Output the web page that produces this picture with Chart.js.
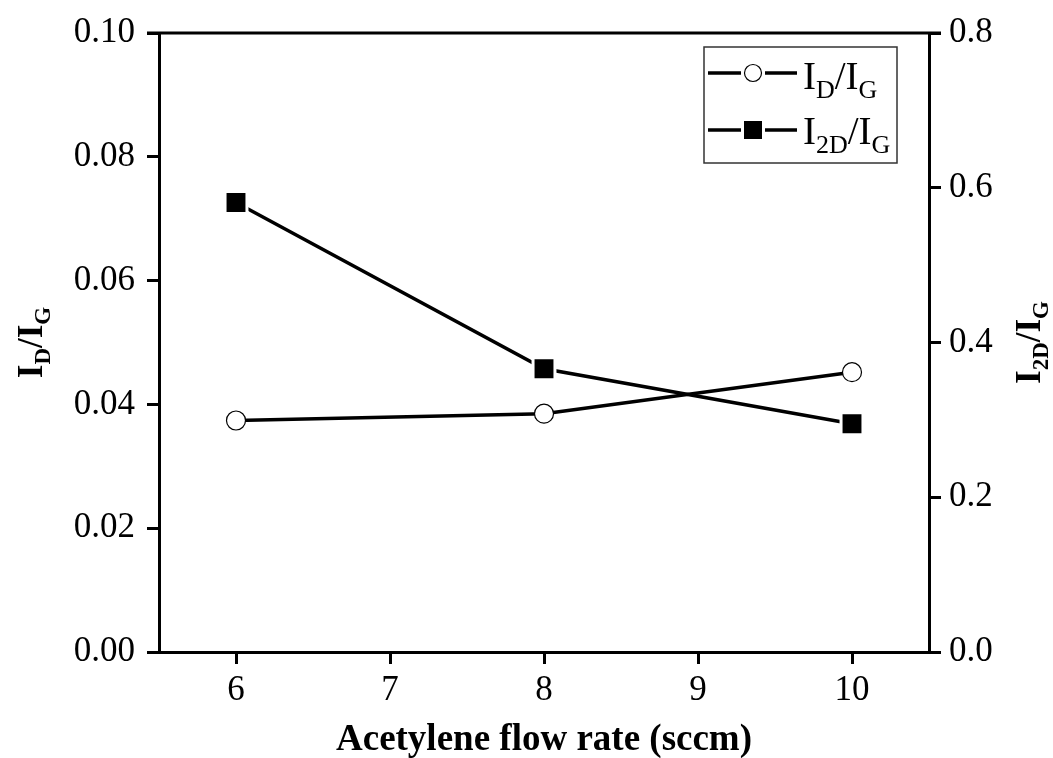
<!DOCTYPE html>
<html>
<head>
<meta charset="utf-8">
<script src="https://cdn.jsdelivr.net/npm/chart.js@4"></script>
<style>
  html, body { margin: 0; padding: 0; background: #fff; }
  #wrap { width: 1053px; height: 758px; }
</style>
</head>
<body>
<div id="wrap"><canvas id="chart" width="1053" height="758"></canvas></div>
<script>
// datos
const flowRate = [6, 8, 10];
const idRatio = [0.0374, 0.0385, 0.0452];
const i2dRatio = [0.581, 0.366, 0.295];
const xTicks = [6, 7, 8, 9, 10];
const leftTicks = [0, 0.02, 0.04, 0.06, 0.08, 0.10];
const rightTicks = [0, 0.2, 0.4, 0.6, 0.8];

const SERIF = '"Liberation Serif", "DejaVu Serif", serif';

// texto con subindices: partes [{t, sub}]
const drawRich = (ctx, parts, x, y, size, bold, align) => {
    const w = bold ? 'bold ' : '';
    const subSize = Math.round(size * 0.66);
    let total = 0;
    parts.forEach(p => {
        ctx.font = w + (p.sub ? subSize : size) + 'px ' + SERIF;
        total += ctx.measureText(p.t).width;
    });
    let cx = align === 'center' ? x - total / 2 : x;
    ctx.textAlign = 'left';
    ctx.textBaseline = 'alphabetic';
    parts.forEach(p => {
        ctx.font = w + (p.sub ? subSize : size) + 'px ' + SERIF;
        ctx.fillText(p.t, cx, p.sub ? y + size * 0.22 : y);
        cx += ctx.measureText(p.t).width;
    });
};

const idLabel = [{t: 'I'}, {t: 'D', sub: true}, {t: '/'}, {t: 'I'}, {t: 'G', sub: true}];
const i2dLabel = [{t: 'I'}, {t: '2D', sub: true}, {t: '/'}, {t: 'I'}, {t: 'G', sub: true}];

const extras = {
    id: 'extras',
    afterDraw(chart) {
        const ctx = chart.ctx;
        const a = chart.chartArea;
        ctx.save();
        // linea superior del marco
        ctx.strokeStyle = '#000';
        ctx.lineWidth = 3;
        ctx.beginPath();
        ctx.moveTo(a.left - 12, a.top);
        ctx.lineTo(a.right + 12, a.top);
        ctx.stroke();

        ctx.fillStyle = '#000';
        // titulo eje x
        ctx.font = 'bold 37px ' + SERIF;
        ctx.textAlign = 'center';
        ctx.textBaseline = 'alphabetic';
        ctx.fillText('Acetylene flow rate (sccm)', (a.left + a.right) / 2, 750);

        // titulos ejes y (rotados)
        const midY = (a.top + a.bottom) / 2;
        ctx.save();
        ctx.translate(42, midY);
        ctx.rotate(-Math.PI / 2);
        drawRich(ctx, idLabel, 0, 0, 35, true, 'center');
        ctx.restore();
        ctx.save();
        ctx.translate(1040, midY);
        ctx.rotate(-Math.PI / 2);
        drawRich(ctx, i2dLabel, 0, 0, 35, true, 'center');
        ctx.restore();

        // leyenda
        ctx.strokeStyle = '#333';
        ctx.lineWidth = 1.5;
        ctx.strokeRect(704, 47, 193, 116);
        ctx.strokeStyle = '#000';
        ctx.lineWidth = 3.5;
        [73, 130].forEach(ly => {
            ctx.beginPath();
            ctx.moveTo(708, ly);
            ctx.lineTo(741, ly);
            ctx.moveTo(765, ly);
            ctx.lineTo(797, ly);
            ctx.stroke();
        });
        ctx.lineWidth = 1.2;
        ctx.fillStyle = '#fff';
        ctx.beginPath();
        ctx.arc(753, 73, 8.5, 0, Math.PI * 2);
        ctx.fill();
        ctx.stroke();
        ctx.fillStyle = '#000';
        ctx.fillRect(744, 121, 18, 18);
        drawRich(ctx, idLabel, 803, 89, 39, false, 'left');
        drawRich(ctx, i2dLabel, 803, 144, 39, false, 'left');
        ctx.restore();
    }
};

const tickFont = { family: SERIF, size: 35 };
const axisGrid = { drawOnChartArea: false, color: '#000', lineWidth: 3, tickLength: 12 };
const axisBorder = { display: true, color: '#000', width: 3 };

new Chart(document.getElementById('chart'), {
    type: 'scatter',
    data: {
        datasets: [
            {
                label: 'ID/IG',
                data: flowRate.map((x, i) => ({ x: x, y: idRatio[i] })),
                yAxisID: 'y',
                showLine: true,
                borderColor: '#000',
                borderWidth: 3.5,
                pointStyle: 'circle',
                pointRadius: 9.5,
                pointBorderWidth: 1.2,
                pointBackgroundColor: '#fff',
                pointBorderColor: '#000'
            },
            {
                label: 'I2D/IG',
                data: flowRate.map((x, i) => ({ x: x, y: i2dRatio[i] })),
                yAxisID: 'y1',
                showLine: true,
                borderColor: '#000',
                borderWidth: 3.5,
                pointStyle: 'rect',
                // borde blanco = hueco entre linea y marcador
                pointRadius: 15.5,
                pointBorderWidth: 3,
                pointBackgroundColor: '#000',
                pointBorderColor: '#fff'
            }
        ]
    },
    options: {
        responsive: false,
        animation: false,
        layout: { padding: { top: 32, left: 0, right: 0, bottom: 0 } },
        plugins: { legend: { display: false }, tooltip: { enabled: false } },
        scales: {
            x: {
                type: 'linear',
                min: 5.5,
                max: 10.5,
                afterBuildTicks: s => { s.ticks = xTicks.map(v => ({ value: v })); },
                afterFit: s => { s.height = 106; },
                ticks: { font: tickFont, color: '#000', padding: 6 },
                grid: axisGrid,
                border: axisBorder
            },
            y: {
                position: 'left',
                min: 0,
                max: 0.1,
                afterBuildTicks: s => { s.ticks = leftTicks.map(v => ({ value: v })); },
                afterFit: s => { s.width = 159; },
                ticks: { font: tickFont, color: '#000', padding: 12, callback: v => v.toFixed(2) },
                grid: axisGrid,
                border: axisBorder
            },
            y1: {
                position: 'right',
                min: 0,
                max: 0.8,
                afterBuildTicks: s => { s.ticks = rightTicks.map(v => ({ value: v })); },
                afterFit: s => { s.width = 124; },
                ticks: { font: tickFont, color: '#000', padding: 8, callback: v => v.toFixed(1) },
                grid: axisGrid,
                border: axisBorder
            }
        }
    },
    plugins: [extras]
});
</script>
</body>
</html>
